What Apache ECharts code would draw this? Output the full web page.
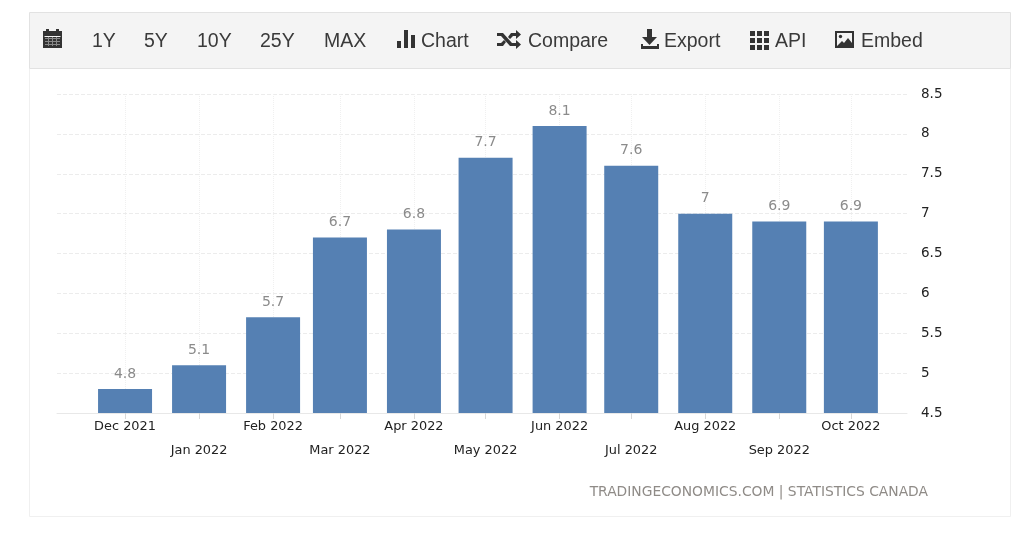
<!DOCTYPE html>
<html>
<head>
<meta charset="utf-8">
<style>
    html, body { margin: 0; padding: 0; background: #fff; }
    #chart { width: 1024px; height: 540px; }
</style>
<script src="https://cdn.jsdelivr.net/npm/echarts@6/dist/echarts.min.js"></script>
</head>
<body>
<div id="chart"></div>
<script>
    var months = ['2021-12-01', '2022-01-01', '2022-02-01', '2022-03-01', '2022-04-01', '2022-05-01',
        '2022-06-01', '2022-07-01', '2022-08-01', '2022-09-01', '2022-10-01'];
    var monthLabels = ['Dec 2021', 'Jan 2022', 'Feb 2022', 'Mar 2022', 'Apr 2022', 'May 2022',
        'Jun 2022', 'Jul 2022', 'Aug 2022', 'Sep 2022', 'Oct 2022'];
    var rates = [4.8, 5.1, 5.7, 6.7, 6.8, 7.7, 8.1, 7.6, 7, 6.9, 6.9];

    var toolbarItems = ['1Y', '5Y', '10Y', '25Y', 'MAX', 'Chart', 'Compare', 'Export', 'API', 'Embed'];
    var toolbarX = [92, 144, 197, 260, 324, 421, 528, 664, 775, 861];
    var sourceText = 'TRADINGECONOMICS.COM | STATISTICS CANADA';

    var monthTimes = months.map(function (d) { return Date.parse(d + 'T00:00:00'); });

    var iconDark = '#333';
    var toolbarBg = '#f4f4f4';

    function box(x, y, w, h, fill) {
        return { type: 'rect', shape: { x: x, y: y, width: w, height: h }, style: { fill: fill || iconDark } };
    }
    function poly(points, fill) {
        return { type: 'polygon', shape: { points: points }, style: { fill: fill || iconDark } };
    }

    var graphics = [
        { type: 'rect', shape: { x: 29.5, y: 68.5, width: 981, height: 448 }, style: { fill: '#fff', stroke: '#f0f0f0', lineWidth: 1 }, z: -2 },
        { type: 'rect', shape: { x: 29.5, y: 12.5, width: 981, height: 56 }, style: { fill: toolbarBg, stroke: '#e2e2e2', lineWidth: 1 }, z: -1 },
        { type: 'text', x: 928, y: 492, style: { text: sourceText, fill: '#8f8b87', font: '13.85px "DejaVu Sans"', align: 'right', verticalAlign: 'middle' } }
    ];
    toolbarItems.forEach(function (name, i) {
        graphics.push({
            type: 'text', x: toolbarX[i], y: 42,
            style: { text: name, fill: '#3a3a3a', font: '19.5px "Liberation Sans"', verticalAlign: 'middle' }
        });
    });

    // calendar
    graphics.push(box(43, 31, 19, 17), box(46, 29, 3, 3), box(56, 29, 3, 3), box(44.5, 36, 16, 1, toolbarBg));
    [38, 41, 44].forEach(function (y) { graphics.push(box(45, y, 15, 1, '#888')); });
    [48, 52, 56].forEach(function (x) { graphics.push(box(x, 37, 1, 9, '#888')); });
    // bars
    graphics.push(box(397, 41, 4, 7), box(404, 30, 4, 18), box(411, 35, 4, 13));
    // shuffle
    graphics.push(
        poly([[497, 33], [503, 33], [512, 43], [516, 43], [516, 40], [521, 44.5], [516, 49], [516, 46], [510, 46], [501, 36], [497, 36]]),
        poly([[497, 43], [501, 43], [504, 40], [506, 42], [503, 46], [497, 46]]),
        poly([[508, 37], [511, 33], [516, 33], [516, 30], [521, 34.5], [516, 39], [516, 36], [513, 36], [510, 39]])
    );
    // export
    graphics.push(
        poly([[647, 29], [652, 29], [652, 37], [657, 37], [649.5, 45], [642, 37], [647, 37]]),
        box(641, 46, 18, 3), box(641, 44, 2, 3), box(657, 44, 2, 3)
    );
    // api grid
    [750, 757, 764].forEach(function (x) {
        [31, 38, 45].forEach(function (y) { graphics.push(box(x, y, 5, 5)); });
    });
    // embed
    graphics.push(
        box(835, 31, 19, 17), box(837, 33, 15, 13, toolbarBg),
        poly([[837, 46], [842, 41], [844, 43], [848, 38], [852, 43], [852, 46]]),
        { type: 'circle', shape: { cx: 840.5, cy: 36.5, r: 1.7 }, style: { fill: iconDark } }
    );

    var chart = echarts.init(document.getElementById('chart'));
    chart.setOption({
        animation: false,
        textStyle: { fontFamily: 'DejaVu Sans' },
        graphic: graphics,
        grid: { left: 57, right: 117, top: 94, bottom: 127 },
        xAxis: {
            // timestamps on a value axis, months are not equally wide
            type: 'value',
            min: Date.parse('2021-11-02T12:00:00'),
            max: Date.parse('2022-10-24T12:00:00'),
            axisLine: { show: true, onZero: false, lineStyle: { color: '#e8e8e8', width: 1 } },
            axisTick: { show: true, length: 6, customValues: monthTimes, lineStyle: { color: '#d8d8d8' } },
            splitLine: { show: true, lineStyle: { color: '#f0f0f0', type: 'dotted' } },
            axisLabel: {
                customValues: monthTimes,
                color: '#222',
                fontSize: 12.9,
                lineHeight: 24,
                margin: 2,
                formatter: function (value) {
                    var i = monthTimes.indexOf(value);
                    return i % 2 === 1 ? '\n' + monthLabels[i] : monthLabels[i];
                }
            }
        },
        yAxis: {
            type: 'value',
            position: 'right',
            min: 4.5,
            max: 8.5,
            interval: 0.5,
            axisLine: { show: false },
            axisTick: { show: false },
            splitLine: { lineStyle: { color: '#ececec', type: 'dashed' } },
            axisLabel: { color: '#222', fontSize: 13.5, margin: 14 }
        },
        series: [{
            type: 'bar',
            barWidth: 54,
            data: monthTimes.map(function (t, i) { return [t, rates[i]]; }),
            itemStyle: { color: '#5580b3' },
            label: {
                show: true,
                position: 'top',
                distance: 8,
                color: '#8b8b8b',
                fontSize: 14,
                formatter: function (p) { return String(p.value[1]); }
            }
        }]
    });
</script>
</body>
</html>
